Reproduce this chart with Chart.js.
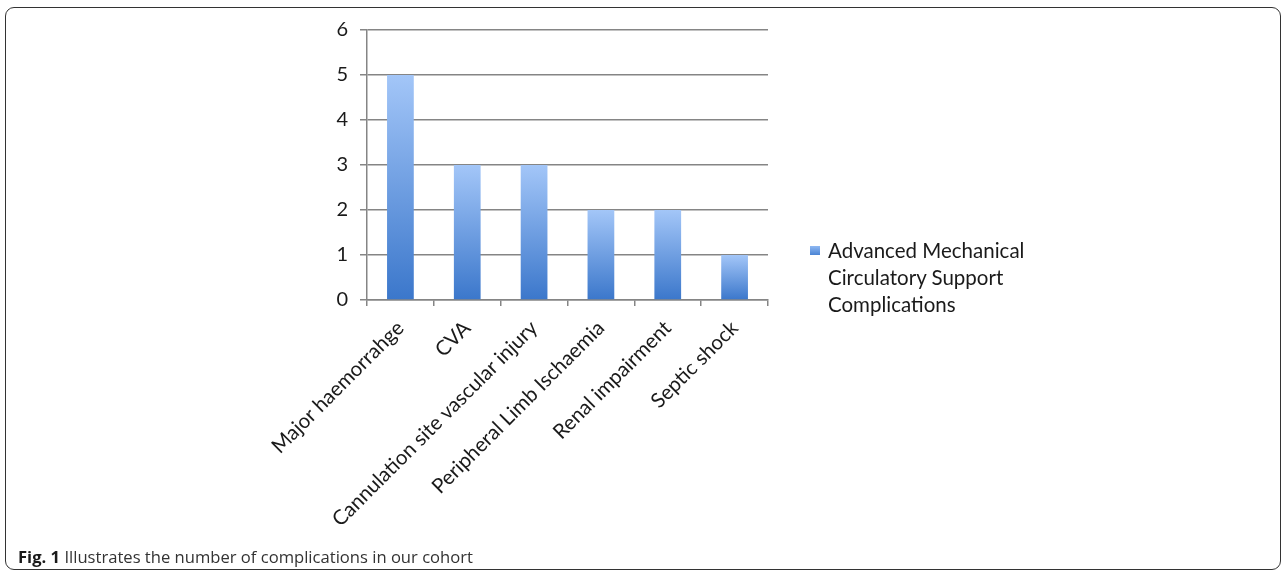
<!DOCTYPE html>
<html>
<head>
<meta charset="utf-8">
<script src="https://cdn.jsdelivr.net/npm/chart.js@4/dist/chart.umd.min.js"></script>
<style>
  html, body { margin: 0; padding: 0; background: #fff; }
  body { width: 1288px; height: 576px; position: relative; overflow: hidden; }
  #frame {
    position: absolute; left: 5px; top: 7px; width: 1276px; height: 563px;
    border: 1.5px solid #333; border-radius: 9px; box-sizing: border-box;
  }
  #wrap { position: absolute; left: 0; top: 0; width: 1288px; height: 576px; }
  #legend {
    position: absolute; left: 810px; top: 237px;
    font-family: Lato, sans-serif; font-size: 20.5px; line-height: 27px; color: #1a1a1a;
  }
  #legend .sw {
    position: absolute; left: 0; top: 9px; width: 10px; height: 9px;
    background: linear-gradient(#8fb8f2, #4a84d4);
  }
  #legend .txt { margin-left: 18px; width: 240px; }
  #caption {
    position: absolute; left: 18px; top: 545px;
    font-family: "Open Sans", sans-serif; font-size: 16.6px; color: #333;
  }
  #caption b { color: #1a1a1a; }
</style>
</head>
<body>
<div id="frame"></div>
<div id="wrap"><canvas id="chart"></canvas></div>
<div id="legend"><span class="sw"></span><div class="txt" id="legendText"></div></div>
<div id="caption"><b>Fig. 1</b> Illustrates the number of complications in our cohort</div>
<script>
var categories = ["Major haemorrahge", "CVA", "Cannulation site vascular injury",
  "Peripheral Limb Ischaemia", "Renal impairment", "Septic shock"];
var complications = [5, 3, 3, 2, 2, 1];
var seriesName = "Advanced Mechanical Circulatory Support Complications";
var yTicks = [0, 1, 2, 3, 4, 5, 6];

document.getElementById("legendText").textContent = seriesName;

var gridColor = "#858585";

function barGradient(ctx) {
  var chart = ctx.chart;
  var area = chart.chartArea;
  if (!area || !chart.scales.y) return "#6a9ae0";
  var y = chart.scales.y;
  var top = y.getPixelForValue(ctx.raw);
  var base = y.getPixelForValue(0);
  var g = chart.ctx.createLinearGradient(0, top, 0, base);
  g.addColorStop(0, "#a3c6f8");
  g.addColorStop(1, "#3b77cb");
  return g;
}

var chartdata = {
  labels: categories,
  datasets: [
    {
      label: seriesName,
      data: complications,
      backgroundColor: barGradient,
      borderWidth: 0,
      barPercentage: 0.4,
      categoryPercentage: 1.0
    }
  ]
};

var ctx = document.getElementById("chart");
var chart = new Chart(ctx, {
  type: "bar",
  data: chartdata,
  options: {
    responsive: true,
    maintainAspectRatio: false,
    animation: false,
    layout: { padding: { left: 0, top: 30, right: 520, bottom: 0 } },
    plugins: { legend: { display: false }, tooltip: { enabled: false } },
    scales: {
      x: {
        afterFit: function(scale) { scale.height = 276; },
        grid: {
          offset: true,
          drawOnChartArea: false,
          drawTicks: true,
          tickLength: 6,
          color: gridColor,
          lineWidth: 1.5
        },
        border: { color: gridColor, width: 1.5 },
        ticks: {
          minRotation: 45,
          maxRotation: 45,
          autoSkip: false,
          padding: 10,
          color: "#1a1a1a",
          font: { family: "Lato", size: 20.5 }
        }
      },
      y: {
        min: yTicks[0],
        max: yTicks[yTicks.length - 1],
        afterFit: function(scale) { scale.width = 367; },
        afterBuildTicks: function(scale) {
          scale.ticks = yTicks.map(function(v) { return { value: v }; });
        },
        grid: { color: gridColor, lineWidth: 1.5, tickLength: 7 },
        border: { color: gridColor, width: 1.5 },
        ticks: {
          padding: 12,
          color: "#1a1a1a",
          font: { family: "Lato", size: 20 }
        }
      }
    }
  }
});
</script>
</body>
</html>
